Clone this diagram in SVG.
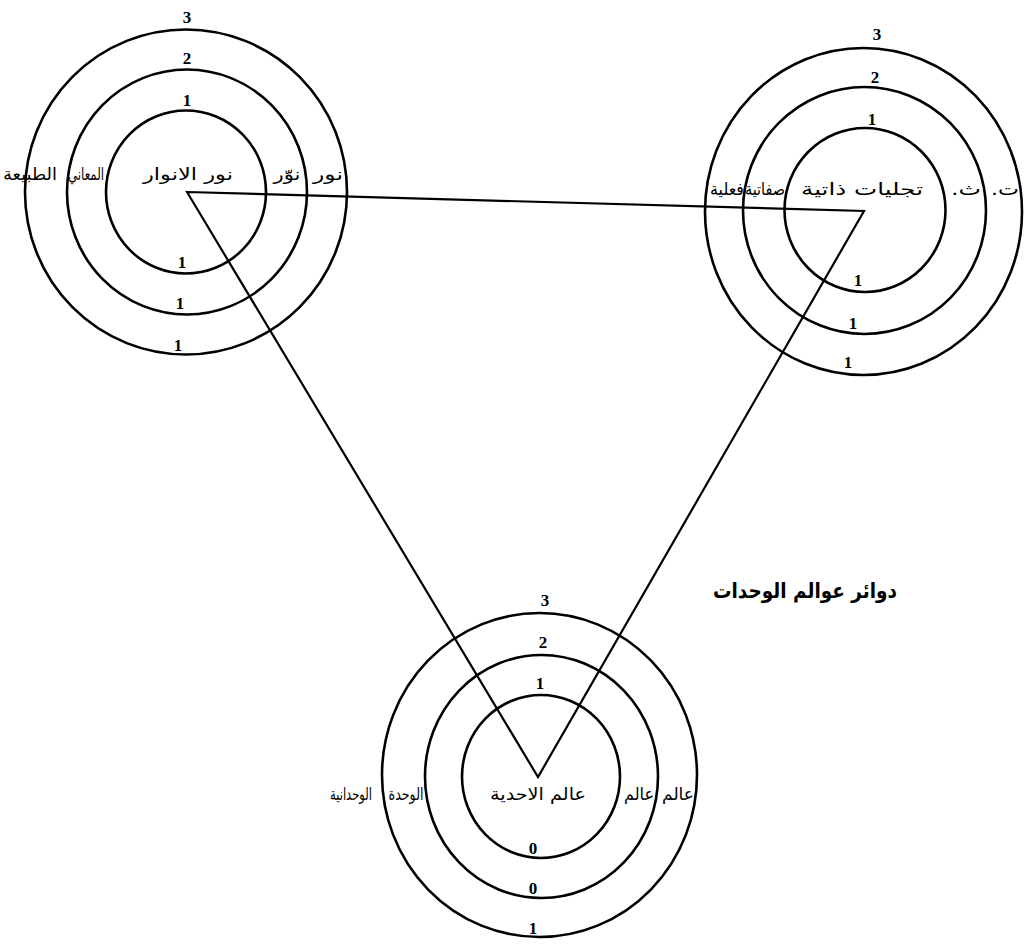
<svg xmlns="http://www.w3.org/2000/svg" width="1024" height="945" viewBox="0 0 1024 945">
<style>
.ring{fill:none;stroke:#000;stroke-width:2.6}
.tri{fill:none;stroke:#000;stroke-width:2.2;stroke-linejoin:miter}
.num{font-family:"Liberation Serif","DejaVu Serif",serif;font-weight:bold;font-size:17px;text-anchor:middle;fill:#000}
.ar{font-family:"DejaVu Sans","Noto Sans",sans-serif;font-size:17px;text-anchor:middle;fill:#000;direction:rtl}
.title{font-family:"DejaVu Sans","Noto Sans",sans-serif;font-size:21px;font-weight:bold;text-anchor:middle;fill:#000;direction:rtl}
</style>
<rect width="1024" height="945" fill="#fff"/>
<g id="connectors">
<polygon class="tri" points="187,192 864,211 538,777"/>
</g>
<g id="node-left">
<ellipse class="ring" cx="186" cy="192" rx="80" ry="81.5"/>
<ellipse class="ring" cx="187" cy="192" rx="120" ry="122.5"/>
<ellipse class="ring" cx="186" cy="192" rx="161" ry="162.5"/>
<text class="num" x="187" y="23">3</text>
<text class="num" x="187" y="64">2</text>
<text class="num" x="187" y="106">1</text>
<text class="num" x="182" y="268">1</text>
<text class="num" x="180" y="309">1</text>
<text class="num" x="178" y="351">1</text>
<text class="ar" x="30" y="180" direction="rtl" textLength="54" lengthAdjust="spacingAndGlyphs">الطبيعة</text>
<text class="ar" x="86" y="180" direction="rtl" textLength="36" lengthAdjust="spacingAndGlyphs">المعاني</text>
<text class="ar" x="188" y="180" direction="rtl" textLength="90" lengthAdjust="spacingAndGlyphs">نور الانوار</text>
<text class="ar" x="287" y="180" direction="rtl" textLength="27" lengthAdjust="spacingAndGlyphs">نوّر</text>
<text class="ar" x="328" y="180" direction="rtl" textLength="30" lengthAdjust="spacingAndGlyphs">نور</text>
</g>
<g id="node-right">
<ellipse class="ring" cx="865" cy="210" rx="80.5" ry="82"/>
<ellipse class="ring" cx="864.5" cy="210.5" rx="121.5" ry="123.5"/>
<ellipse class="ring" cx="863.5" cy="211.5" rx="158.5" ry="163.5"/>
<text class="num" x="877" y="40">3</text>
<text class="num" x="875" y="83">2</text>
<text class="num" x="872" y="125">1</text>
<text class="num" x="858" y="286">1</text>
<text class="num" x="853" y="329">1</text>
<text class="num" x="848" y="368">1</text>
<text class="ar" x="727" y="195" direction="rtl" textLength="34" lengthAdjust="spacingAndGlyphs">فعلية</text>
<text class="ar" x="765" y="195" direction="rtl" textLength="40" lengthAdjust="spacingAndGlyphs">صفاتية</text>
<text class="ar" x="862" y="195" direction="rtl" textLength="122" lengthAdjust="spacingAndGlyphs">تجليات ذاتية</text>
<text class="ar" x="966" y="195" direction="rtl" textLength="30" lengthAdjust="spacingAndGlyphs">ث.</text>
<text class="ar" x="1005" y="195" direction="rtl" textLength="28" lengthAdjust="spacingAndGlyphs">ت.</text>
</g>
<g id="node-bottom">
<ellipse class="ring" cx="541" cy="776.5" rx="79" ry="81.5"/>
<ellipse class="ring" cx="541.5" cy="776.5" rx="116.5" ry="121.5"/>
<ellipse class="ring" cx="539.5" cy="775" rx="157.5" ry="162"/>
<text class="num" x="545" y="606">3</text>
<text class="num" x="543" y="648">2</text>
<text class="num" x="540" y="689">1</text>
<text class="num" x="533" y="854">0</text>
<text class="num" x="533" y="894">0</text>
<text class="num" x="533" y="934">1</text>
<text class="ar" x="351" y="800" direction="rtl" textLength="42" lengthAdjust="spacingAndGlyphs">الوحدانية</text>
<text class="ar" x="406" y="800" direction="rtl" textLength="35" lengthAdjust="spacingAndGlyphs">الوحدة</text>
<text class="ar" x="538" y="800" direction="rtl" textLength="96" lengthAdjust="spacingAndGlyphs">عالم الاحدية</text>
<text class="ar" x="639" y="800" direction="rtl" textLength="30" lengthAdjust="spacingAndGlyphs">عالم</text>
<text class="ar" x="678" y="800" direction="rtl" textLength="32" lengthAdjust="spacingAndGlyphs">عالم</text>
</g>
<g id="title">
<text class="title" x="805" y="598" direction="rtl" textLength="184" lengthAdjust="spacingAndGlyphs">دوائر عوالم الوحدات</text>
</g>
</svg>
